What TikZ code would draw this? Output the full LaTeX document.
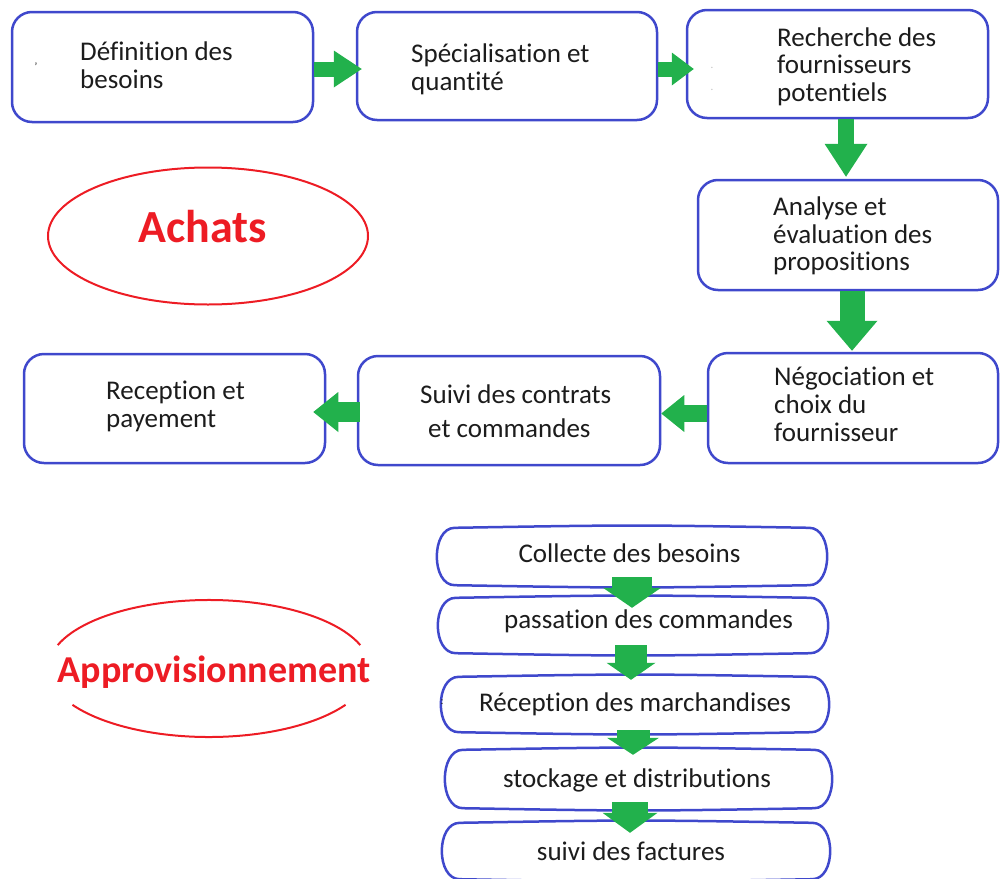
\documentclass[tikz,border=0pt]{standalone}
\usepackage{fontspec}
\setmainfont{Carlito}[Ligatures={NoCommon,NoContextual,NoRare},Contextuals={NoAlternate}]
\usetikzlibrary{calc,arrows.meta,shapes.geometric}

\definecolor{boxblue}{RGB}{63,72,204}
\definecolor{arrowgreen}{RGB}{34,177,76}
\definecolor{titlered}{RGB}{237,28,36}
\definecolor{ink}{RGB}{28,28,28}

% keeps "t" and "i" as separate glyphs
\newcommand\ti{t\kern0pt i}

% outline of a process box with softly bulging sides
\newcommand\capsuleoutline[1]{%
  \draw[capline]
    ($(#1.north west)+(18,0)$) .. controls ($(#1.north)+(0,-3)$) .. ($(#1.north east)+(-18,0)$)
    .. controls ($(#1.north east)+(6,0)$) and ($(#1.south east)+(6,0)$) .. ($(#1.south east)+(-18,0)$)
    .. controls ($(#1.south)+(0,3)$) .. ($(#1.south west)+(18,0)$)
    .. controls ($(#1.south west)+(-6,0)$) and ($(#1.north west)+(-6,0)$) .. ($(#1.north west)+(18,0)$)
    -- cycle;}

\begin{document}
\begin{tikzpicture}[x=1pt,y=-1pt,
  stepbox/.style={draw=boxblue, line width=2.5pt, rounded corners=20pt, inner sep=0pt},
  capsule/.style={inner sep=0pt},
  capline/.style={draw=boxblue, line width=2.5pt, line join=round},
  lbl/.style={text=ink, font=\fontsize{27}{28}\selectfont, inner sep=0pt, anchor=base west},
  clbl/.style={text=ink, font=\fontsize{27}{28}\selectfont, inner sep=0pt, anchor=base},
  speck/.style={text=ink, font=\fontsize{11}{11}\selectfont, inner sep=0pt},
  ovalline/.style={draw=titlered, line width=2pt},
  title/.style={text=titlered, inner sep=0pt, anchor=base},
  blockarr/.style args={#1/#2/#3}{draw=arrowgreen, line width=#1,
    -{Triangle[length=#3, width=#2, line width=0pt]}}
]
\useasboundingbox (0,0) rectangle (1000,878);

% ---------- Achats ----------
\node[draw=titlered, line width=2pt, ellipse, minimum width=320pt, minimum height=137pt, inner sep=0pt] (achats) at (208,236) {};
\node[title, font=\bfseries\fontsize{46}{46}\selectfont] (achatsl) at (203,242) {Achats};

\node[stepbox, minimum width=301pt, minimum height=110pt] (b1) at (162.5,67) {};
\node[stepbox, minimum width=300pt, minimum height=108pt] (b2) at (507,66) {};
\node[stepbox, minimum width=301pt, minimum height=108pt] (b3) at (837.5,64) {};
\node[stepbox, minimum width=300pt, minimum height=110pt] (b4) at (848,235) {};
\node[stepbox, minimum width=290pt, minimum height=110pt] (b5) at (853,408) {};
\node[stepbox, minimum width=302pt, minimum height=109pt] (b6) at (509,410.5) {};
\node[stepbox, minimum width=301pt, minimum height=109pt] (b7) at (174.5,408.5) {};

\node[lbl] (t1a) at (80,60) {Défini\ti on des};
\node[lbl] (t1b) at (80,88) {besoins};
\node[speck] (s1) at (36,67) {'};

\node[lbl] (t2a) at (411,62) {Spécialisa\ti on et};
\node[lbl] (t2b) at (411,90) {quan\ti té};

\node[lbl] (t3a) at (777,46) {Recherche des};
\node[lbl] (t3b) at (777,73) {fournisseurs};
\node[lbl] (t3c) at (777,101) {poten\ti els};
\node[speck, text=black!25] (s3a) at (712,68) {.};
\node[speck, text=black!25] (s3b) at (712,90) {.};

\node[lbl] (t4a) at (773,215) {Analyse et};
\node[lbl] (t4b) at (773,243) {évalua\ti on des};
\node[lbl] (t4c) at (773,270) {proposi\ti ons};

\node[lbl] (t5a) at (774,385) {Négocia\ti on et};
\node[lbl] (t5b) at (774,413) {choix du};
\node[lbl] (t5c) at (774,441) {fournisseur};

\node[lbl] (t6a) at (420,403) {Suivi des contrats};
\node[lbl] (t6b) at (428,437) {et commandes};

\node[lbl] (t7a) at (106,399) {Recep\ti on et};
\node[lbl] (t7b) at (106,427) {payement};

\draw[blockarr={15pt/37pt/28pt}] ($(b1.east)+(0,2)$) -- ($(b2.west)+(6,3)$);
\draw[blockarr={15pt/33pt/22pt}] ($(b2.east)+(0,3)$) -- ($(b3.west)+(8,5)$);
\draw[blockarr={16pt/43pt/33pt}] ($(b3.south)+(8.5,0)$) -- ($(b4.north)+(-2,-2)$);
\draw[blockarr={25pt/51pt/30pt}] ($(b4.south)+(4,0)$) -- ($(b5.north)+(-1,-1)$);
\draw[blockarr={17pt/37pt/23pt}] ($(b5.west)+(0,5.5)$) -- ($(b6.east)+(0,3)$);
\draw[blockarr={20pt/40pt/25pt}] ($(b6.west)+(3,1.5)$) -- ($(b7.east)+(-13,3.5)$);

% ---------- Approvisionnement ----------
\coordinate (apvc) at (209,668.5);
\draw[ovalline] (apvc) ++(200:161 and 68.5) arc[start angle=200, end angle=340, x radius=161, y radius=68.5];
\draw[ovalline] (apvc) ++(32:161 and 68.5) arc[start angle=32, end angle=148, x radius=161, y radius=68.5];
\node[title, font=\bfseries\fontsize{38}{38}\selectfont] (apvl) at (214,682) {Approvisionnement};

\node[capsule, minimum width=390pt, minimum height=57pt] (c1) at (632,556.5) {};
\node[capsule, minimum width=390pt, minimum height=55pt] (c2) at (633,625.5) {};
\node[capsule, minimum width=388pt, minimum height=55pt] (c3) at (635,704.5) {};
\node[capsule, minimum width=387pt, minimum height=58pt] (c4) at (638.5,779) {};
\node[capsule, minimum width=388pt, minimum height=56pt] (c5) at (636,851) {};
\capsuleoutline{c1}
\capsuleoutline{c2}
\capsuleoutline{c3}
\capsuleoutline{c4}
\capsuleoutline{c5}

\node[clbl] (u1) at (629.5,562) {Collecte des besoins};
\node[clbl] (u2) at (648.5,628) {passa\ti on des commandes};
\node[clbl] (u3) at (635,711) {Récep\ti on des marchandises};
\node[speck] (s5) at (442,702) {:};
\node[clbl] (u4) at (637,787) {stockage et distribu\ti ons};
\node[clbl] (u5) at (631,860) {suivi des factures};

\draw[blockarr={40pt/58pt/20pt}] ($(c1.south)+(0,-8)$) -- ($(c2.north)+(-1,10)$);
\draw[blockarr={32pt/49pt/17pt}] ($(c2.south)+(-2,-8)$) -- ($(c3.north)+(-4,3)$);
\draw[blockarr={33pt/52pt/17pt}] ($(c3.south)+(-2,-2)$) -- ($(c4.north)+(-5.5,5)$);
\draw[blockarr={36pt/55pt/20pt}] ($(c4.south)+(-8.5,-6)$) -- ($(c5.north)+(-6,10)$);
\end{tikzpicture}
\end{document}
